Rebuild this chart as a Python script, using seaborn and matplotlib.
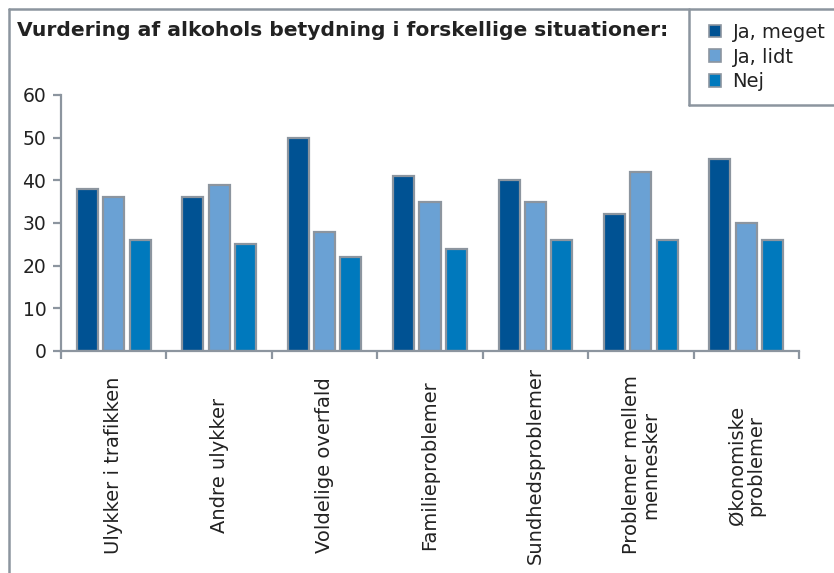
import matplotlib
matplotlib.use("Agg")
import matplotlib.pyplot as plt
from matplotlib.patches import Patch
from matplotlib.lines import Line2D
from matplotlib.transforms import blended_transform_factory
import seaborn as sns
import pandas as pd

# Survey data
categories = [
    "Ulykker i trafikken",
    "Andre ulykker",
    "Voldelige overfald",
    "Familieproblemer",
    "Sundhedsproblemer",
    "Problemer mellem\nmennesker",
    "Økonomiske\nproblemer",
]
series = ["Ja, meget", "Ja, lidt", "Nej"]
ja_meget = [38, 36, 50, 41, 40, 32, 45]
ja_lidt = [36, 39, 28, 35, 35, 42, 30]
nej = [26, 25, 22, 24, 26, 26, 26]
colors = ["#005293", "#6aa1d4", "#0079bd"]
title = "Vurdering af alkohols betydning i forskellige situationer:"

rows = []
for name, vals in zip(series, [ja_meget, ja_lidt, nej]):
    for cat, v in zip(categories, vals):
        rows.append({"kategori": cat, "andel": v, "svar": name})
df = pd.DataFrame(rows)

sns.set_theme(style="white")
FONT = "DejaVu Sans"
plt.rcParams["font.family"] = [FONT]

GRAY = "#8c959f"
TEXT = "#222222"
FS = 14

W, H = 834, 573
fig = plt.figure(figsize=(W / 100, H / 100), dpi=100)
ax = fig.add_axes([61 / W, 1 - 351 / H, (799 - 61) / W, (351 - 95) / H])

sns.barplot(
    data=df, x="kategori", y="andel", hue="svar",
    order=categories, hue_order=series, palette=colors, saturation=1,
    width=0.75, gap=0.2, edgecolor=GRAY, linewidth=1.6,
    legend=False, ax=ax,
)

ax.set_xlim(-0.5, len(categories) - 0.5)
ax.set_ylim(0, 60)
ax.set_yticks(range(0, 61, 10))
ax.set_yticklabels([str(v) for v in range(0, 61, 10)], fontfamily=FONT,
                   fontsize=13.5, color=TEXT)
ax.set_xlabel("")
ax.set_ylabel("")

# Category separators as ticks; labels centred in a band below the axis
ax.set_xticks([i - 0.5 for i in range(len(categories) + 1)])
ax.set_xticklabels([])
ax.tick_params(axis="x", which="major", direction="out", length=6, width=1.6,
               color=GRAY, bottom=True)
ax.tick_params(axis="y", direction="out", length=6, width=1.6, color=GRAY,
               pad=4.5, left=True)

lbl_tf = blended_transform_factory(ax.transData, fig.transFigure)
for i, cat in enumerate(categories):
    ax.text(i, 1 - 465 / H, cat, transform=lbl_tf, rotation=90,
            ha="center", va="center", multialignment="center",
            fontsize=FS, fontfamily=FONT, color=TEXT, linespacing=1.0)

for side in ["top", "right"]:
    ax.spines[side].set_visible(False)
for side in ["left", "bottom"]:
    ax.spines[side].set_color(GRAY)
    ax.spines[side].set_linewidth(1.6)

# Outer frame and legend box
def fline(xs, ys):
    fig.add_artist(Line2D([x / W for x in xs], [1 - y / H for y in ys],
                          color=GRAY, linewidth=1.8, transform=fig.transFigure))

fline([8.5, 8.5], [8.5, H])
fline([8.5, W], [8.5, 8.5])
fline([689, 689], [8.5, 105])
fline([689, W], [105, 105])

fig.text(17 / W, 1 - 31 / H, title, fontsize=14.6, fontweight="bold",
         fontfamily=FONT, color=TEXT, ha="left", va="center")

handles = [Patch(facecolor=c, edgecolor=GRAY, linewidth=1.2) for c in colors]
fig.legend(handles, series, loc="upper left",
           bbox_to_anchor=(701 / W, 1 - 15 / H), frameon=False,
           prop={"family": FONT, "size": FS}, handlelength=0.62,
           handleheight=0.62, handletextpad=0.6, labelspacing=0.3,
           borderaxespad=0, labelcolor=TEXT)

fig.savefig("out.png", dpi=100)
